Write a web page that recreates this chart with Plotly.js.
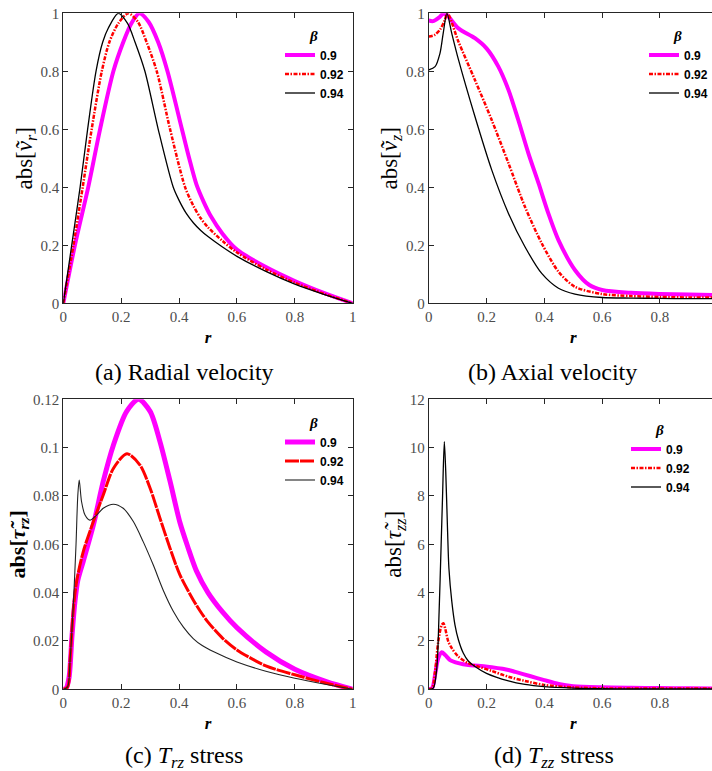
<!DOCTYPE html>
<html><head><meta charset="utf-8">
<script src="https://cdn.plot.ly/plotly-3.0.1.min.js"></script>
<style>html,body{margin:0;padding:0;overflow:hidden;background:#fff}#chart{width:720px;height:771px}</style>
</head><body><div id="chart"></div>
<script>
const betaLabels = ['0.9', '0.92', '0.94'];

// (a) radial velocity
const rA_09 = [0, 0.04, 0.086, 0.127, 0.173, 0.207, 0.235, 0.263, 0.295, 0.328, 0.36, 0.41, 0.435, 0.46, 0.485, 0.51, 0.55, 0.6, 0.7, 0.8, 0.9, 1.0];
const vA_09 = [0, 0.2, 0.4, 0.6, 0.8, 0.9, 0.965, 1.0, 0.97, 0.9, 0.8, 0.6, 0.5, 0.41, 0.35, 0.3, 0.24, 0.185, 0.125, 0.077, 0.036, 0];
const rA_092 = [0, 0.035, 0.067, 0.098, 0.133, 0.159, 0.19, 0.225, 0.258, 0.288, 0.323, 0.369, 0.421, 0.45, 0.475, 0.5, 0.55, 0.6, 0.7, 0.8, 0.9, 1.0];
const vA_092 = [0, 0.2, 0.4, 0.6, 0.8, 0.9, 0.965, 1.0, 0.97, 0.9, 0.8, 0.6, 0.4, 0.335, 0.293, 0.262, 0.215, 0.175, 0.117, 0.071, 0.033, 0];
const rA_094 = [0, 0.029, 0.058, 0.084, 0.113, 0.136, 0.156, 0.19, 0.222, 0.248, 0.282, 0.328, 0.38, 0.4, 0.425, 0.45, 0.475, 0.5, 0.55, 0.6, 0.7, 0.8, 0.9, 1.0];
const vA_094 = [0, 0.2, 0.4, 0.6, 0.8, 0.9, 0.95, 1.0, 0.965, 0.9, 0.8, 0.6, 0.4, 0.355, 0.31, 0.277, 0.251, 0.23, 0.194, 0.162, 0.11, 0.066, 0.031, 0];

// (b) axial velocity
const rB_09 = [0, 0.015, 0.035, 0.05, 0.062, 0.103, 0.16, 0.2, 0.241, 0.276, 0.31, 0.345, 0.38, 0.414, 0.449, 0.506, 0.556, 0.6, 0.7, 0.8, 0.9, 1.0];
const vB_09 = [0.975, 0.973, 0.985, 0.998, 0.995, 0.948, 0.914, 0.879, 0.816, 0.736, 0.632, 0.517, 0.414, 0.31, 0.218, 0.115, 0.063, 0.046, 0.036, 0.032, 0.03, 0.028];
const rB_092 = [0, 0.02, 0.04, 0.055, 0.065, 0.103, 0.16, 0.218, 0.276, 0.333, 0.391, 0.449, 0.506, 0.6, 0.7, 0.8, 0.9, 1.0];
const vB_092 = [0.92, 0.925, 0.945, 0.975, 1.0, 0.902, 0.77, 0.632, 0.483, 0.333, 0.207, 0.109, 0.057, 0.032, 0.025, 0.022, 0.02, 0.02];
const rB_094 = [0, 0.022, 0.039, 0.05, 0.063, 0.08, 0.103, 0.16, 0.218, 0.276, 0.333, 0.391, 0.449, 0.506, 0.6, 0.7, 0.8, 0.9, 1.0];
const vB_094 = [0.805, 0.816, 0.862, 0.93, 1.0, 0.93, 0.84, 0.644, 0.46, 0.31, 0.195, 0.103, 0.052, 0.032, 0.02, 0.018, 0.017, 0.016, 0.016];

// (c) T_rz stress
const rC_09 = [0, 0.01, 0.02, 0.03, 0.04, 0.05, 0.069, 0.104, 0.138, 0.173, 0.219, 0.26, 0.3, 0.334, 0.369, 0.403, 0.43, 0.46, 0.5, 0.55, 0.6, 0.7, 0.8, 0.909, 1.0];
const tC_09 = [0, 0.0005, 0.005, 0.022, 0.036, 0.045, 0.053, 0.068, 0.086, 0.101, 0.115, 0.12, 0.115, 0.1025, 0.086, 0.069, 0.059, 0.049, 0.04, 0.032, 0.0255, 0.0155, 0.0083, 0.0032, 0];
const rC_092 = [0, 0.015, 0.023, 0.035, 0.046, 0.069, 0.104, 0.138, 0.173, 0.22, 0.265, 0.3, 0.334, 0.369, 0.403, 0.449, 0.475, 0.5, 0.55, 0.6, 0.7, 0.8, 0.909, 1.0];
const tC_092 = [0, 0.001, 0.0114, 0.0335, 0.0446, 0.057, 0.0694, 0.0804, 0.0914, 0.0975, 0.0928, 0.0832, 0.0708, 0.0583, 0.0473, 0.037, 0.032, 0.0278, 0.0212, 0.0163, 0.0097, 0.006, 0.0025, 0];
const rC_094 = [0, 0.015, 0.023, 0.035, 0.044, 0.05, 0.055, 0.063, 0.075, 0.092, 0.115, 0.138, 0.173, 0.207, 0.242, 0.276, 0.311, 0.346, 0.38, 0.415, 0.449, 0.48, 0.52, 0.6, 0.7, 0.8, 0.909, 1.0];
const tC_094 = [0, 0.001, 0.0114, 0.036, 0.06, 0.08, 0.0866, 0.0777, 0.0721, 0.07, 0.0721, 0.0749, 0.0766, 0.0749, 0.0694, 0.0611, 0.0514, 0.0408, 0.0323, 0.0257, 0.021, 0.0181, 0.0155, 0.0113, 0.0075, 0.0046, 0.002, 0];

// (d) T_zz stress
const rD_09 = [0, 0.012, 0.022, 0.033, 0.045, 0.057, 0.074, 0.103, 0.137, 0.172, 0.218, 0.276, 0.3, 0.35, 0.4, 0.45, 0.5, 0.6, 0.7, 0.8, 0.9, 1.0];
const tD_09 = [0, 0.05, 0.6, 1.28, 1.53, 1.42, 1.21, 1.08, 1.0, 0.98, 0.91, 0.8, 0.72, 0.55, 0.38, 0.22, 0.13, 0.08, 0.06, 0.05, 0.04, 0.035];
const rD_092 = [0, 0.012, 0.022, 0.033, 0.045, 0.051, 0.057, 0.068, 0.08, 0.103, 0.137, 0.172, 0.218, 0.276, 0.333, 0.4, 0.5, 0.6, 0.7, 0.8, 0.9, 1.0];
const tD_092 = [0, 0.05, 0.73, 1.97, 2.66, 2.73, 2.52, 1.97, 1.7, 1.35, 1.08, 0.94, 0.76, 0.52, 0.345, 0.18, 0.08, 0.04, 0.03, 0.03, 0.03, 0.03];
const rD_094 = [0, 0.016, 0.028, 0.036, 0.043, 0.048, 0.054, 0.059, 0.065, 0.07, 0.08, 0.091, 0.103, 0.12, 0.137, 0.16, 0.2, 0.276, 0.333, 0.4, 0.5, 0.6, 0.7, 0.8, 0.9, 1.0];
const tD_094 = [0, 0.05, 0.87, 3.2, 5.97, 8.0, 10.25, 9.0, 6.66, 5.0, 3.63, 2.66, 2.04, 1.49, 1.17, 0.94, 0.66, 0.345, 0.2, 0.11, 0.05, 0.025, 0.02, 0.02, 0.02, 0.02];

const W = 720, H = 771;
const px = v => v / W;
const py = v => 1 - v / H;

const dashDot = '4px,1.5px,1.5px,1.5px';
function tr(x, y, name, color, width, dash, xa, ya, leg) {
  return {x: x, y: y, name: '<b>' + name + '</b>', type: 'scatter', mode: 'lines',
    line: {color: color, width: width, dash: dash, shape: 'spline', smoothing: 0.8},
    xaxis: xa, yaxis: ya, legend: leg, hoverinfo: 'skip'};
}

const data = [
  tr(rA_09, vA_09, betaLabels[0], '#ff00ff', 4, 'solid', 'x', 'y', 'legend'),
  tr(rA_092, vA_092, betaLabels[1], '#ff0000', 2.5, dashDot, 'x', 'y', 'legend'),
  tr(rA_094, vA_094, betaLabels[2], '#000000', 1.3, 'solid', 'x', 'y', 'legend'),
  tr(rB_09, vB_09, betaLabels[0], '#ff00ff', 4, 'solid', 'x2', 'y2', 'legend2'),
  tr(rB_092, vB_092, betaLabels[1], '#ff0000', 2.5, dashDot, 'x2', 'y2', 'legend2'),
  tr(rB_094, vB_094, betaLabels[2], '#000000', 1.3, 'solid', 'x2', 'y2', 'legend2'),
  tr(rC_09, tC_09, betaLabels[0], '#ff00ff', 5, 'solid', 'x3', 'y3', 'legend3'),
  tr(rC_092, tC_092, betaLabels[1], '#ff0000', 3, '14px,1px', 'x3', 'y3', 'legend3'),
  tr(rC_094, tC_094, betaLabels[2], '#222222', 1.1, 'solid', 'x3', 'y3', 'legend3'),
  tr(rD_09, tD_09, betaLabels[0], '#ff00ff', 4, 'solid', 'x4', 'y4', 'legend4'),
  tr(rD_092, tD_092, betaLabels[1], '#ff0000', 2.5, dashDot, 'x4', 'y4', 'legend4'),
  tr(rD_094, tD_094, betaLabels[2], '#000000', 1.3, 'solid', 'x4', 'y4', 'legend4')
];

const tickFont = {family: 'Liberation Serif', size: 15, color: '#4d4d4d'};
function ax(domain, range, tickvals, title, standoff, tsize, extra) {
  return Object.assign({domain: domain, range: range, tickvals: tickvals,
    showline: true, mirror: 'ticks', linecolor: '#262626', linewidth: 1,
    ticks: 'inside', ticklen: 5, tickcolor: '#262626', showgrid: false, zeroline: false,
    tickfont: tickFont, fixedrange: true,
    title: {text: title, standoff: standoff, font: {family: 'Liberation Serif', size: tsize, color: '#000'}}}, extra || {});
}
const domL = [px(63.3), px(352.7)], domR = [px(428.7), px(717.7)];
const domT = [py(303.3), py(13.3)], domB = [py(689.3), py(399.3)];
const xt = [0, 0.2, 0.4, 0.6, 0.8, 1];
const xtR = [0, 0.2, 0.4, 0.6, 0.8];

function xAx(domain, vals, anchor) {
  return ax(domain, [0, 1], vals, '<b><i>r</i></b>', 6, 17, {anchor: anchor});
}

function leg(xp, yp) {
  return {x: px(xp), y: py(yp), xref: 'paper', yref: 'paper', xanchor: 'left', yanchor: 'top',
    bgcolor: 'rgba(0,0,0,0)', borderwidth: 0, itemwidth: 30,
    font: {family: 'Liberation Sans', size: 12, color: '#000'},
    title: {text: '<b><i>β</i></b>', side: 'top center', font: {family: 'Liberation Serif', size: 15, color: '#000'}}};
}

const capFont = {family: 'Liberation Serif', size: 24, color: '#000'};
function cap(text, x, y) {
  return {text: text, x: px(x), y: py(y), xref: 'paper', yref: 'paper', showarrow: false,
    xanchor: 'center', yanchor: 'middle', font: capFont};
}

const layout = {
  width: W, height: H, margin: {l: 0, r: 0, t: 0, b: 0},
  paper_bgcolor: '#fff', plot_bgcolor: '#fff', showlegend: true,
  xaxis: xAx(domL, xt, 'y'),
  yaxis: ax(domT, [0, 1], [0, 0.2, 0.4, 0.6, 0.8, 1], 'abs[<i>ṽ</i><sub><i>r</i></sub>]', 1, 23, {anchor: 'x'}),
  xaxis2: xAx(domR, xtR, 'y2'),
  yaxis2: ax(domT, [0, 1], [0, 0.2, 0.4, 0.6, 0.8, 1], 'abs[<i>ṽ</i><sub><i>z</i></sub>]', 1, 23, {anchor: 'x2'}),
  xaxis3: xAx(domL, xt, 'y3'),
  yaxis3: ax(domB, [0, 0.12], [0, 0.02, 0.04, 0.06, 0.08, 0.1, 0.12], '<b>abs[<i>τ̃</i><sub><i>rz</i></sub>]</b>', 1, 22, {anchor: 'x3'}),
  xaxis4: xAx(domR, xtR, 'y4'),
  yaxis4: ax(domB, [0, 12], [0, 2, 4, 6, 8, 10, 12], 'abs[<i>τ̃</i><sub><i>zz</i></sub>]', 1, 23, {anchor: 'x4'}),
  legend: leg(280, 21),
  legend2: leg(644, 21),
  legend3: leg(280, 408),
  legend4: leg(626, 415),
  annotations: [
    cap('(a) Radial velocity', 185, 372),
    cap('(b) Axial velocity', 552, 372),
    cap('(c) <i>T</i><sub><i>rz</i></sub> stress', 184, 757),
    cap('(d) <i>T</i><sub><i>zz</i></sub> stress', 554, 757)
  ]
};

Plotly.newPlot('chart', data, layout, {displayModeBar: false, staticPlot: true});
</script>
</body></html>
